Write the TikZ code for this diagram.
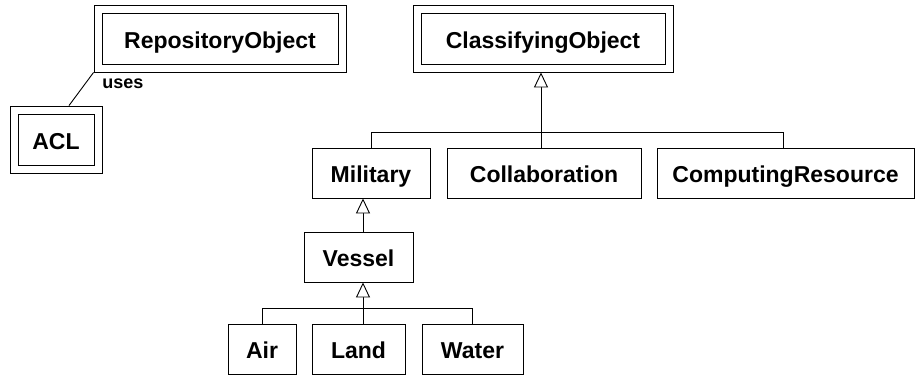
\documentclass[tikz,border=0pt]{standalone}
\usepackage{fontspec}
\setmainfont{Liberation Sans}
\usetikzlibrary{arrows.meta}
\begin{document}
\begin{tikzpicture}[x=1pt,y=-1pt,
  line width=0.9pt,
  classbox/.style={draw, rectangle, inner sep=0pt, text height=19pt, text depth=0pt,
    font=\fontsize{23}{27}\selectfont\bfseries},
  frame/.style={draw, rectangle, inner sep=0pt},
  gen/.style={-{Triangle[open,length=15pt,width=14pt,fill=white]}},
  rolelabel/.style={font=\fontsize{18}{21}\selectfont\bfseries, inner sep=0pt}]
\useasboundingbox (0,0) rectangle (917,375);

% framed classes
\node[frame, minimum width=252, minimum height=67] (repo) at (220,38.5) {};
\node[classbox, minimum width=236, minimum height=51] (repoin) at (repo.center) {RepositoryObject};
\node[frame, minimum width=260, minimum height=67] (classif) at (543,38.5) {};
\node[classbox, minimum width=244, minimum height=51] (classifin) at (classif.center) {ClassifyingObject};
\node[frame, minimum width=92, minimum height=67] (acl) at (56,139.5) {};
\node[classbox, minimum width=76, minimum height=51] (aclin) at (acl.center) {ACL};

% plain classes
\node[classbox, minimum width=118, minimum height=50] (military) at (371,173) {Military};
\node[classbox, minimum width=194, minimum height=50] (collab) at (544,173) {Collaboration};
\node[classbox, minimum width=257, minimum height=50] (computing) at (785.5,173) {ComputingResource};
\node[classbox, minimum width=109, minimum height=50] (vessel) at (358.5,257) {Vessel};
\node[classbox, minimum width=68, minimum height=50] (air) at (262,349) {Air};
\node[classbox, minimum width=93, minimum height=50] (land) at (358.5,349) {Land};
\node[classbox, minimum width=101, minimum height=50] (water) at (472.5,349) {Water};

% association
\draw (repo.south west) -- ([xshift=13]acl.north);
\node[rolelabel, anchor=base west] (uses) at (102,88) {uses};

% generalisation: ClassifyingObject
\coordinate (cbar) at (0,132);
\draw[gen] ([xshift=-3]collab.north) -- ([xshift=-3]collab.north |- classif.south);
\draw (military.north) -- (military.north |- cbar) -| ([xshift=-2.5]computing.north);

% generalisation: Military
\draw[gen] ([xshift=4.5]vessel.north) -- ([xshift=4.5]vessel.north |- military.south);

% generalisation: Vessel
\coordinate (vbar) at (0,308);
\draw[gen] ([xshift=4.5]land.north) -- ([xshift=4.5]land.north |- vessel.south);
\draw (air.north) -- (air.north |- vbar) -| (water.north);
\end{tikzpicture}
\end{document}
